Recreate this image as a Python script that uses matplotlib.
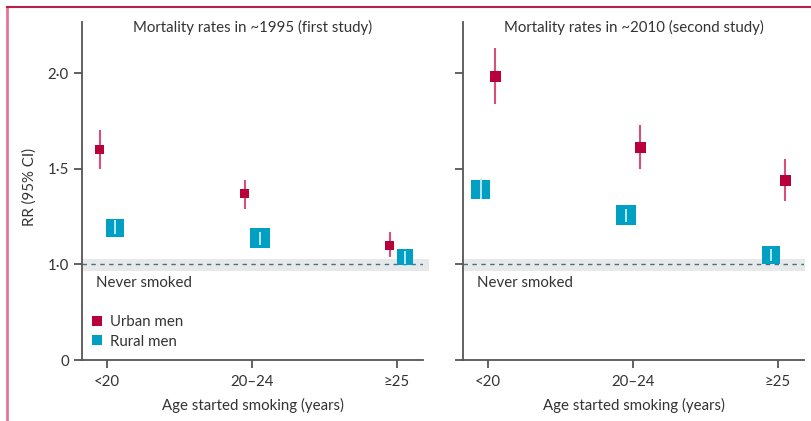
import numpy as np
import matplotlib
matplotlib.use("Agg")
import matplotlib.pyplot as plt
from matplotlib.lines import Line2D

# --- data ------------------------------------------------------------------
AGE_GROUPS = ["<20", "20\u201324", "\u226525"]
TITLES = ["Mortality rates in ~1995 (first study)",
          "Mortality rates in ~2010 (second study)"]

# first study (~1995)
urban_1995 = [1.60, 1.37, 1.10]
urban_1995_lo = [1.50, 1.29, 1.04]
urban_1995_hi = [1.70, 1.44, 1.17]
rural_1995 = [1.19, 1.14, 1.04]
rural_1995_lo = [1.16, 1.10, 1.00]
rural_1995_hi = [1.23, 1.17, 1.07]

# second study (~2010)
urban_2010 = [1.98, 1.61, 1.44]
urban_2010_lo = [1.84, 1.50, 1.33]
urban_2010_hi = [2.13, 1.73, 1.55]
rural_2010 = [1.39, 1.26, 1.05]
rural_2010_lo = [1.34, 1.22, 1.02]
rural_2010_hi = [1.45, 1.29, 1.08]

# never-smoked reference band
REF_LO, REF_HI = 0.93, 1.03

# --- style -----------------------------------------------------------------
URBAN, URBAN_CI = "#b8003a", "#d8507a"
RURAL, RURAL_CI = "#009fc4", "#c8eef8"
AX_COL, TXT = "#555555", "#333333"
FONT = "Lato"
FS = 10.8

plt.rcParams.update({"font.family": FONT, "font.size": FS,
                     "text.color": TXT, "axes.labelcolor": TXT,
                     "xtick.color": AX_COL, "ytick.color": AX_COL,
                     "xtick.labelcolor": TXT, "ytick.labelcolor": TXT})


def fwd(v):
    v = np.asarray(v, dtype=float)
    return np.where(v >= 1, v, 0.5 + 0.5 * v)


def inv(p):
    p = np.asarray(p, dtype=float)
    return np.where(p >= 1, p, (p - 0.5) / 0.5)


fig = plt.figure(figsize=(8.11, 4.21), dpi=100)
W, H = 811, 421
ax1 = fig.add_axes([82 / W, 1 - 360 / H, 341 / W, 338 / H])
ax2 = fig.add_axes([463 / W, 1 - 360 / H, 341 / W, 338 / H])

panels = [
    (ax1, urban_1995, urban_1995_lo, urban_1995_hi,
     rural_1995, rural_1995_lo, rural_1995_hi, -0.05, 0.055, [9, 9, 9], [18, 20, 16]),
    (ax2, urban_2010, urban_2010_lo, urban_2010_hi,
     rural_2010, rural_2010_lo, rural_2010_hi, 0.05, -0.05, [11, 11, 11], [19, 20, 18]),
]

x = np.arange(len(AGE_GROUPS))
for i, (ax, u, ulo, uhi, r, rlo, rhi, uoff, roff, ums, rms) in enumerate(panels):
    ax.set_yscale("function", functions=(fwd, inv))
    ax.set_ylim(0, 2.267)
    ax.set_xlim(-0.172, 2.179)

    ax.axhspan(REF_LO, REF_HI, xmin=0, xmax=1.018 if i == 0 else 1.003,
               color="#e6e8ea", lw=0, zorder=0, clip_on=False)
    ax.axhline(1.0, color="#4a6f7f", lw=1, ls=(0, (3.2, 3.2)), zorder=1)

    # urban: CI line behind square
    ax.vlines(x + uoff, ulo, uhi, color=URBAN_CI, lw=1.5, zorder=2)
    ax.scatter(x + uoff, u, marker="s", s=np.array(ums) ** 2 * 0.52,
               color=URBAN, lw=0, zorder=3)
    # rural: CI line drawn light on top of square
    ax.scatter(x + roff, r, marker="s", s=np.array(rms) ** 2 * 0.52,
               color=RURAL, lw=0, zorder=3)
    ax.vlines(x + roff, rlo, rhi, color=RURAL_CI, lw=1.3, zorder=4)

    for side in ("top", "right"):
        ax.spines[side].set_visible(False)
    for side in ("left", "bottom"):
        ax.spines[side].set_color(AX_COL)
        ax.spines[side].set_linewidth(1.3)
    ax.tick_params(direction="out", length=6, width=1.3, labelsize=FS)
    ax.set_xticks(x)
    ax.set_xticklabels(AGE_GROUPS)
    ax.set_yticks([0, 1.0, 1.5, 2.0])
    ax.set_yticks([], minor=True)
    if i == 0:
        ax.set_yticklabels(["0", "1\u00b70", "1\u00b75", "2\u00b70"])
        ax.set_ylabel("RR (95% CI)", fontsize=FS)
        ax.yaxis.set_label_coords(-0.133, 0.512)
    else:
        ax.set_yticklabels([])
    ax.tick_params(axis="x", pad=5)
    ax.set_xlabel("Age started smoking (years)", fontsize=FS)
    ax.xaxis.set_label_coords(0.5, -0.113)

    ax.text(0.5, 0.985, TITLES[i], transform=ax.transAxes,
            ha="center", va="center", fontsize=FS)
    ax.text(0.042, 0.228, "Never smoked", transform=ax.transAxes,
            ha="left", va="center", fontsize=FS)

ax1.legend(handles=[
    Line2D([0], [0], marker="s", ls="", color=URBAN, ms=7, mew=0, label="Urban men"),
    Line2D([0], [0], marker="s", ls="", color=RURAL, ms=7, mew=0, label="Rural men"),
], loc="center left", bbox_to_anchor=(0.028, 0.083), bbox_transform=ax1.transAxes,
   frameon=False, handlelength=0.7, handletextpad=0.55, labelspacing=0.35,
   fontsize=FS, borderaxespad=0, borderpad=0)

# pink frame lines at the top and left
fig.add_artist(Line2D([7 / W, 7 / W], [0, 1 - 7 / H], color="#e07898", lw=2))
fig.add_artist(Line2D([7 / W, 1], [1 - 7 / H, 1 - 7 / H], color="#b8204a", lw=1.5))

fig.savefig("out.png", dpi=100)
